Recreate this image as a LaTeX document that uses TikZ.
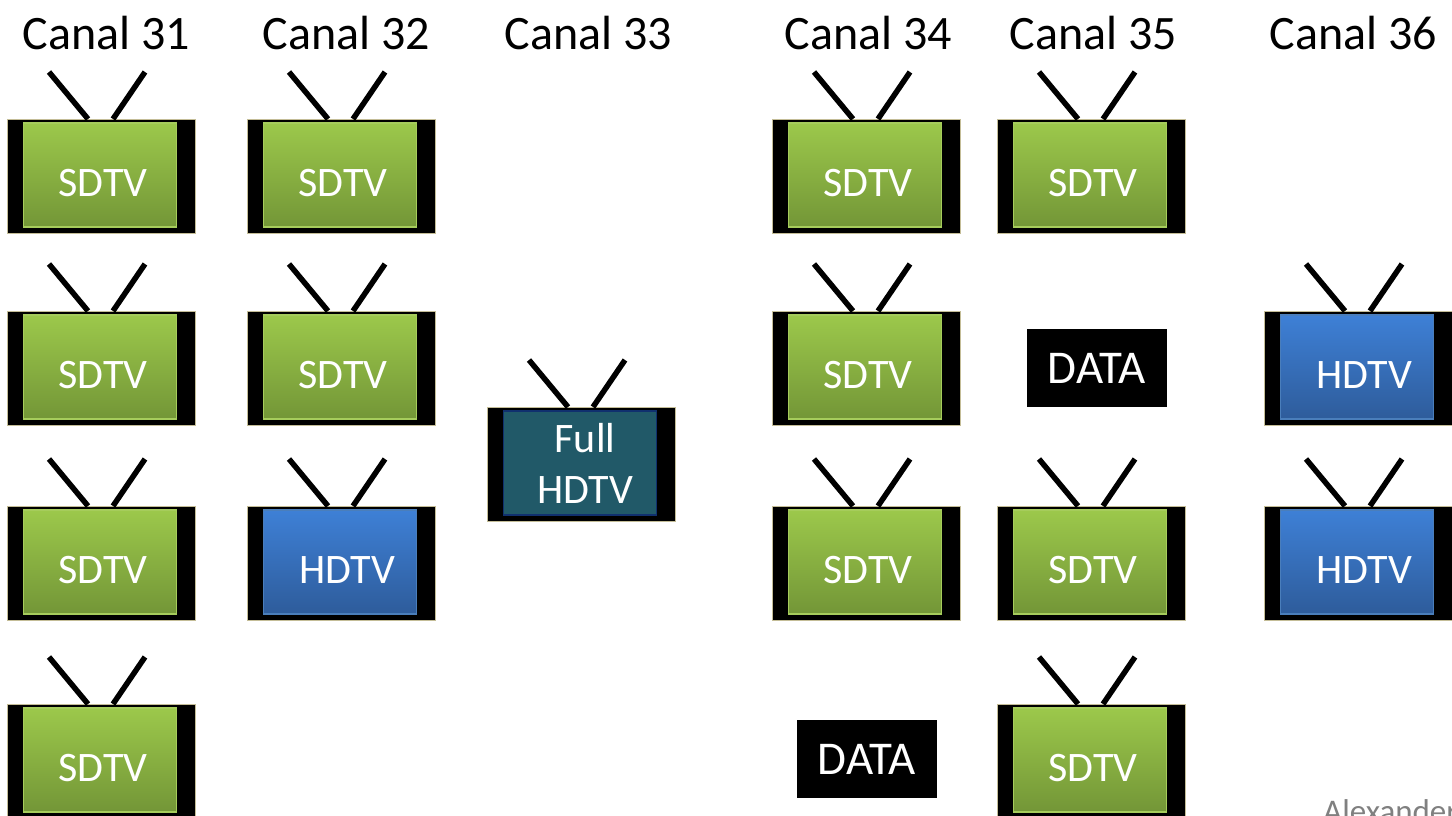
\documentclass[tikz,border=0pt]{standalone}
\usepackage{fontspec}
\setmainfont{Carlito}
\definecolor{framebd}{HTML}{C4BD97}
\definecolor{greentop}{HTML}{9CC84B}
\definecolor{greenbot}{HTML}{739637}
\definecolor{greenbd}{HTML}{A6CC5C}
\definecolor{bluetop}{HTML}{3E80D6}
\definecolor{bluebot}{HTML}{2E5C9B}
\definecolor{bluebd}{HTML}{4A7EBB}
\definecolor{fullfill}{HTML}{215968}
\definecolor{fullbd}{HTML}{10306E}
\definecolor{authorgrey}{HTML}{808080}
\tikzset{
  x=1pt,y=-1pt,
  tvframe/.style={draw=framebd,line width=0.8pt,fill=black,minimum width=188pt,minimum height=114pt,inner sep=0pt,outer sep=0pt,anchor=north west},
  tvscreen/.style={line width=1.2pt,minimum width=153pt,minimum height=104pt,inner sep=0pt,outer sep=0pt},
  sdscreen/.style={tvscreen,draw=greenbd,top color=greentop,bottom color=greenbot},
  hdscreen/.style={tvscreen,draw=bluebd,top color=bluetop,bottom color=bluebot},
  fullscreen/.style={tvscreen,draw=fullbd,line width=1.6pt,fill=fullfill},
  antenna/.style={line width=5.5pt,black},
  tvtext/.style={text=white,font=\fontsize{42}{42}\selectfont,inner sep=0pt},
  channel/.style={text=black,font=\fontsize{48}{48}\selectfont,inner sep=0pt},
  databox/.style={fill=black,text=white,font=\fontsize{47}{47}\selectfont,minimum width=140pt,minimum height=78pt,inner sep=0pt},
}
% name, x, y, screen style, text x offset, text y offset (downwards), text
\newcommand{\tvset}[7]{%
  \node[tvframe] (#1) at (#2,#3) {};
  \node[#4] (#1s) at ([shift={(-1pt,1pt)}]#1.center) {};
  \coordinate (#1la) at ([shift={(-52pt,47pt)}]#1.north);
  \coordinate (#1lb) at ([shift={(-13pt,0pt)}]#1.north);
  \coordinate (#1ra) at ([shift={(44pt,47pt)}]#1.north);
  \coordinate (#1rb) at ([shift={(12pt,0pt)}]#1.north);
  \draw[antenna] (#1la) -- (#1lb);
  \draw[antenna] (#1ra) -- (#1rb);
  \node[tvtext] (#1t) at ([shift={(#5pt,-#6pt)}]#1.north west) {#7};
}
\begin{document}
\begin{tikzpicture}
\useasboundingbox (0,0) rectangle (1452,815);
\fill[white] (0,0) rectangle (1452,815);
\node[channel] (c31) at (106.5,33) {Canal 31};
\node[channel] (c32) at (346.5,33) {Canal 32};
\node[channel] (c33) at (588.5,33) {Canal 33};
\node[channel] (c34) at (868.5,33) {Canal 34};
\node[channel] (c35) at (1093.5,33) {Canal 35};
\node[channel] (c36) at (1353.5,33) {Canal 36};
\tvset{a1}{7}{119}{sdscreen}{96}{64}{SDTV}
\tvset{a2}{7}{311}{sdscreen}{96}{64}{SDTV}
\tvset{a3}{7}{506}{sdscreen}{96}{64}{SDTV}
\tvset{a4}{7}{704}{sdscreen}{96}{64}{SDTV}
\tvset{b1}{247}{119}{sdscreen}{96}{64}{SDTV}
\tvset{b2}{247}{311}{sdscreen}{96}{64}{SDTV}
\tvset{b3}{247}{506}{hdscreen}{100}{64}{HDTV}
\tvset{c1}{487}{407}{fullscreen}{98}{63}{\begin{tabular}{@{}c@{}}Full\\[9pt]HDTV\end{tabular}}
\tvset{d1}{772}{119}{sdscreen}{96}{64}{SDTV}
\tvset{d2}{772}{311}{sdscreen}{96}{64}{SDTV}
\tvset{d3}{772}{506}{sdscreen}{96}{64}{SDTV}
\tvset{e1}{997}{119}{sdscreen}{96}{64}{SDTV}
\tvset{e3}{997}{506}{sdscreen}{96}{64}{SDTV}
\tvset{e4}{997}{704}{sdscreen}{96}{64}{SDTV}
\tvset{f2}{1264}{311}{hdscreen}{100}{64}{HDTV}
\tvset{f3}{1264}{506}{hdscreen}{100}{64}{HDTV}
\node[databox] (data1) at (867,759) {DATA};
\node[databox] (data2) at (1097,368) {DATA};
\node[anchor=base west,inner sep=0pt,text=authorgrey,font=\fontsize{33}{33}\selectfont] (author) at (1323,822) {Alexander};
\end{tikzpicture}
\end{document}
